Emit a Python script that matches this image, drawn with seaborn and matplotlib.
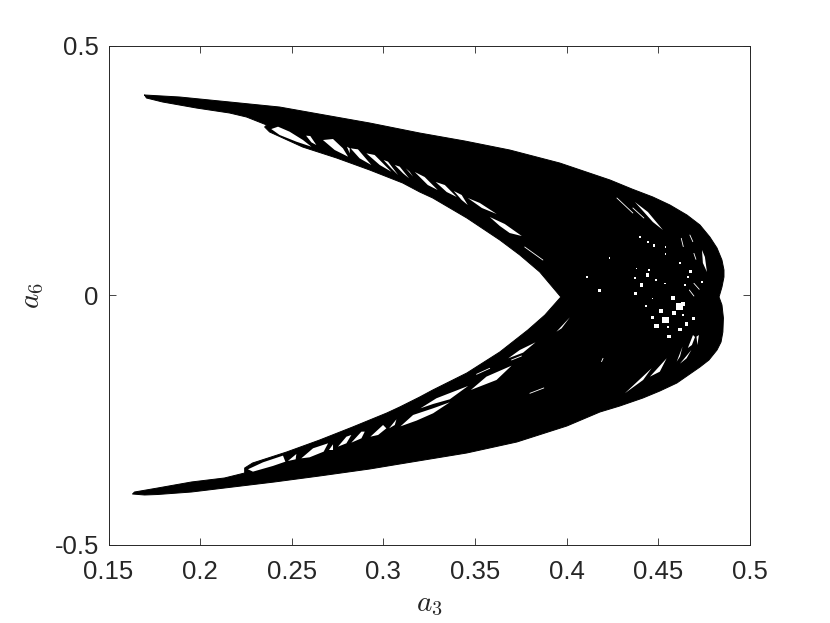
import pandas as pd
import matplotlib
matplotlib.use('Agg')
import matplotlib.pyplot as plt
import seaborn as sns

# outer boundary of the attractor
outline_a3 = [.1697, .1888, .2161, .2434, .2679, .2925, .3198, .3444, .3689, .3962, .4236, .4356, .4470, .4563, .4656, .4727,
              .4781, .4820, .4847, .4858, .4858, .4847, .4831,
              .4847, .4855, .4852, .4842, .4820, .4776, .4727, .4672, .4601, .4508, .4416, .4290, .4181,
              .4001, .3728, .3455, .3089, .2925, .2652, .2406, .2133, .1953, .1768, .1697, .1631,
              .1642, .1768, .1953, .2133, .2243, .2243, .2286, .2472, .2652, .2832, .3018, .3089, .3198, .3269, .3455,
              .3635, .3788, .3881, .3968,
              .3853, .3744, .3635, .3455, .3269, .3198, .3105, .2925, .2745, .2559, .2379, .2352, .2363, .2253, .2161,
              .1980, .1795, .1707]
outline_a6 = [.4018, .3978, .3878, .3777, .3617, .3457, .3256, .3096, .2916, .2655, .2315, .2134, .1974, .1814, .1613, .1413,
              .1172, .0952, .0711, .0511, .0371, .0170, -.0030,
              -.0190, -.0451, -.0731, -.0932, -.1092, -.1293, -.1433, -.1573, -.1754, -.1914, -.2054, -.2214, -.2335,
              -.2615, -.2936, -.3156, -.3377, -.3477, -.3617, -.3737, -.3858, -.3938, -.3988, -.3998, -.3978,
              -.3938, -.3858, -.3737, -.3657, -.3557, -.3457, -.3357, -.3136, -.2896, -.2635, -.2355, -.2234, -.2034, -.1894, -.1553,
              -.1132, -.0691, -.0391, -.0030,
              .0471, .0812, .1112, .1553, .1954, .2074, .2255, .2515, .2755, .2976, .3277, .3377, .3417, .3577, .3657,
              .3757, .3878, .3958]

# white gaps between the orbits
hole_a3 = [
    [.2388, .2425, .2488, .2561, .2607, .2525, .2434],
    [.2578, .2601, .2634, .2607],
    [.2670, .2725, .2779, .2807, .2734],
    [.2801, .2816, .2816],
    [.2821, .2861, .2934, .2870],
    [.2907, .2952, .3043, .2980],
    [.3001, .3025, .3080, .3043],
    [.3062, .3089, .3140, .3107],
    [.3122, .3143, .3162],
    [.3171, .3225, .3296, .3242],
    [.3285, .3335, .3400, .3345],
    [.3384, .3427, .3460, .3427],
    [.3460, .3526, .3618, .3537],
    [.3580, .3662, .3755, .3689, .3635],
    [.4372, .4443, .4525, .4470],
    [.4738, .4754, .4765, .4743],
    [.4661, .4689, .4700, .4683],
    [.4708, .4721, .4713],
    [.4600, .4632, .4618],
    [.4618, .4680, .4654],
    [.4454, .4545, .4508],
    [.4317, .4463, .4417],
    [.3944, .4017, .3972],
    [.3681, .3744, .3830, .3762],
    [.3477, .3562, .3699, .3617],
    [.3202, .3289, .3462, .3362, .3271],
    [.3093, .3162, .3271, .3362, .3271, .3180],
    [.2261, .2343, .2452, .2465, .2397, .2288],
    [.2479, .2525, .2521],
    [.2552, .2616, .2698, .2674, .2597],
    [.2703, .2725, .2725],
    [.2752, .2798, .2825, .2798],
    [.2825, .2880, .2898, .2880],
    [.2929, .2998, .3016, .2971],
    [.3031, .3071, .3062],
]
hole_a6 = [
    [.3336, .3383, .3283, .3116, .2982, .3083, .3216],
    [.3203, .3196, .3016, .3069],
    [.3116, .3136, .2949, .2782, .2916],
    [.2982, .2949, .2849],
    [.2949, .2929, .2615, .2749],
    [.2849, .2816, .2481, .2615],
    [.2715, .2682, .2415, .2548],
    [.2615, .2582, .2348, .2448],
    [.2548, .2481, .2381],
    [.2475, .2375, .2114, .2214],
    [.2275, .2214, .1974, .2074],
    [.2094, .2014, .1814, .1914],
    [.1954, .1854, .1633, .1754],
    [.1573, .1433, .1192, .1252, .1393],
    [.1874, .1673, .1313, .1473],
    [.0912, .0772, .0471, .0651],
    [-.1052, -.0792, -.0832, -.0992],
    [-.0825, -.0792, -.0992],
    [-.1326, -.1024, -.1224],
    [-.1366, -.1092, -.1259],
    [-.1626, -.1259, -.1526],
    [-.1960, -.1459, -.1693],
    [-.0725, -.0438, -.0658],
    [-.1259, -.1092, -.0938, -.1145],
    [-.1893, -.1626, -.1406, -.1693],
    [-.2261, -.2060, -.1813, -.2080, -.2174],
    [-.2622, -.2394, -.2261, -.2140, -.2361, -.2508],
    [-.3483, -.3343, -.3209, -.3330, -.3416, -.3530],
    [-.3316, -.3176, -.3283],
    [-.3263, -.3062, -.2962, -.3129, -.3243],
    [-.3096, -.2982, -.3096],
    [-.3029, -.2829, -.2795, -.2962],
    [-.2949, -.2728, -.2728, -.2862],
    [-.2829, -.2595, -.2662, -.2795],
    [-.2662, -.2481, -.2595],
]

# thin slits, start and end of each
slit_a3 = [[.3771, .3870], [.4274, .4361], [.4361, .4421], [.4625, .4636], [.4672, .4688], [.4694, .4705],
           [.4694, .4723], [.4669, .4694], [.3799, .3875], [.3508, .3580], [.3699, .3753], [.4190, .4198]]
slit_a6 = [[.0972, .0711], [.1954, .1653], [.1754, .1553], [.1146, .0979], [.1212, .1079], [.0845, .0725],
           [.0244, .0124], [.0110, -.0010], [-.1960, -.1853], [-.1579, -.1459], [-.1292, -.1212], [-.1326, -.1259]]

# bright specks in the right hand part
speck_a3 = [.4614, .4539, .4490, .4581, .4636, .4585, .4512, .4467, .4654, .4558, .4690, .4618, .4408, .4376, .4441,
            .4177, .4112, .4232, .4399, .4445, .4476, .4539, .4539, .4618, .4676, .4736, .4663, .4450, .4381, .4372,
            .4487, .4536, .4645, .4468, .4432, .4636, .4554]
speck_a6 = [-.0223, -.0491, -.0611, -.0056, -.0170, -.0357, -.0304, -.0437, -.0571, -.0825, -.0457, -.0678, .0204, .0037, .0411,
            .0097, .0378, .0752, .1179, .1079, .0999, .0979, .0832, .0645, .0478, .0278, .0364, .0511, .0545, .0344,
            .0311, .0244, .0211, -.0056, -.0210, -.0390, -.0624]
speck_size = [22, 22, 12, 8, 10, 8, 8, 6, 6, 6, 5, 5, 7, 5, 5, 4, 2, 1, 2, 2, 3, 2, 2, 2, 3, 2, 2, 2, 1, 2, 2, 1, 1, 1, 1, 2, 2]

x_ticks = [0.15, 0.2, 0.25, 0.3, 0.35, 0.4, 0.45, 0.5]
x_tick_labels = ['0.15', '0.2', '0.25', '0.3', '0.35', '0.4', '0.45', '0.5']
y_ticks = [-0.5, 0, 0.5]
y_tick_labels = ['-0.5', '0', '0.5']

ink = '#262626'

sns.set_theme(style='ticks')
plt.rcParams['font.family'] = ['Liberation Sans', 'DejaVu Sans']
plt.rcParams['mathtext.fontset'] = 'cm'

fig = plt.figure(figsize=(8.3, 6.23), dpi=100)
ax = fig.add_axes([108.5 / 830, 78 / 623, 641.5 / 830, 499 / 623])

# solid body, with the outline drawn over it as the orbit line
ax.fill(outline_a3, outline_a6, color='black', lw=0)
sns.lineplot(x=outline_a3 + outline_a3[:1], y=outline_a6 + outline_a6[:1], sort=False, estimator=None,
             color='black', lw=0.7, ax=ax)

for hx, hy in zip(hole_a3, hole_a6):
    ax.fill(hx, hy, color='white', lw=0)

slits = pd.DataFrame({
    'a3': [v for s in slit_a3 for v in s],
    'a6': [v for s in slit_a6 for v in s],
    'slit': [i for i, s in enumerate(slit_a3) for _ in s],
})
sns.lineplot(data=slits, x='a3', y='a6', units='slit', estimator=None, sort=False, color='white', lw=0.6, ax=ax)

sns.scatterplot(x=speck_a3, y=speck_a6, s=speck_size, color='white', marker='s', linewidth=0, ax=ax)

ax.set_xlim(0.15, 0.5)
ax.set_ylim(-0.5, 0.5)
ax.set_xticks(x_ticks, x_tick_labels)
ax.set_yticks(y_ticks, y_tick_labels)
ax.tick_params(direction='in', length=5, width=0.6, top=True, right=True, color=ink, labelcolor=ink, labelsize=18.5)
ax.tick_params(axis='x', pad=11)
ax.tick_params(axis='y', pad=7)
for side in ax.spines.values():
    side.set_linewidth(0.7)
    side.set_color(ink)

ax.set_xlabel('$a_3$', fontsize=21, color=ink, labelpad=4)
ax.set_ylabel('$a_6$', fontsize=21, color=ink, labelpad=6)

fig.savefig('out.png', dpi=100)
